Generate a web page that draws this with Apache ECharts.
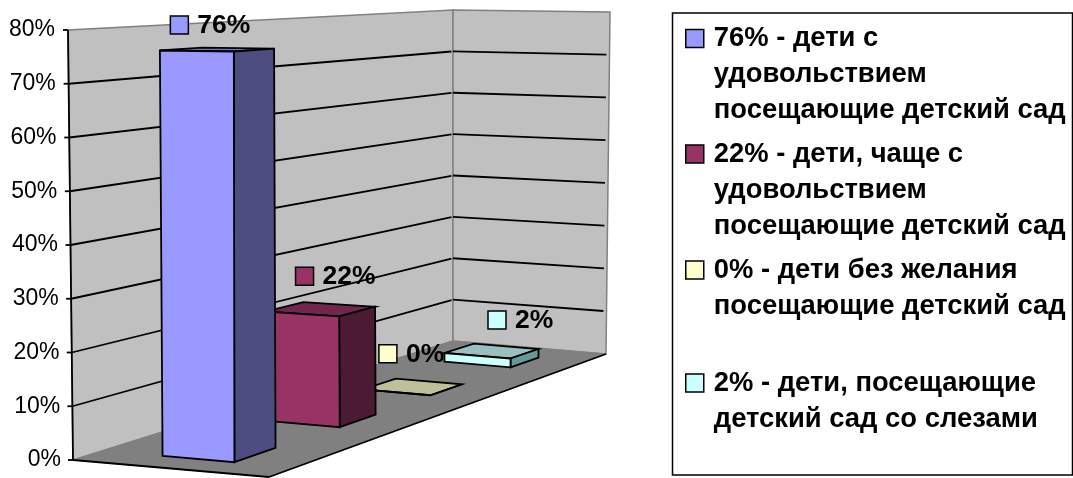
<!DOCTYPE html>
<html><head><meta charset="utf-8">
<style>html,body{margin:0;padding:0;background:#fff}#c{width:1073px;height:478px}</style>
<script src="https://cdn.jsdelivr.net/npm/echarts@6/dist/echarts.min.js"></script>
</head><body><div id="c"></div>
<script>
const seriesNames = ['76% - дети с удовольствием посещающие детский сад','22% - дети, чаще с удовольствием посещающие детский сад','0% - дети без желания посещающие детский сад','2% - дети, посещающие детский сад со слезами'];
const legendLines = [['76% - дети с','удовольствием','посещающие детский сад'],['22% - дети, чаще с','удовольствием','посещающие детский сад'],['0% - дети без желания','посещающие детский сад'],['2% - дети, посещающие','детский сад со слезами']];
const values = [76,22,0,2];
const dataLabels = ['76%','22%','0%','2%'];
const frontColors = ['#9999FF','#993366','#FFFFCC','#CCFFFF'];
const sideColors = ['#4D4D80','#4D1A33','#808066','#669999'];
const topColors = ['#7373BF','#73264D','#BFBF99','#99BFBF'];
const ticks = [0,10,20,30,40,50,60,70,80];

// projection of the room: floor and ceiling planes as pixel quads
const floorQuad = [[73,460],[269,477],[606,354],[453,341]];
const ceilQuad  = [[68,30],[270,32],[610,12],[453,10]];
function homography(q){
  const [p0,p1,p2,p3]=q;
  const dx1=p1[0]-p2[0],dx2=p3[0]-p2[0],sx=p0[0]-p1[0]+p2[0]-p3[0];
  const dy1=p1[1]-p2[1],dy2=p3[1]-p2[1],sy=p0[1]-p1[1]+p2[1]-p3[1];
  const den=dx1*dy2-dx2*dy1;
  const g=(sx*dy2-dx2*sy)/den,h=(dx1*sy-sx*dy1)/den;
  const a=p1[0]-p0[0]+g*p1[0],b=p3[0]-p0[0]+h*p3[0],c=p0[0];
  const d=p1[1]-p0[1]+g*p1[1],e=p3[1]-p0[1]+h*p3[1],f=p0[1];
  return (u,v)=>{const w=g*u+h*v+1;return [(a*u+b*v+c)/w,(d*u+e*v+f)/w];};
}
const H0=homography(floorQuad),H1=homography(ceilQuad);
function projector(params,api){
  const cs=params.coordSys;
  return (u,v,val)=>{
    const t=(cs.y+cs.height-api.coord([0,val])[1])/cs.height;
    const a=H0(u,v),b=H1(u,v);
    return [a[0]+(b[0]-a[0])*t,a[1]+(b[1]-a[1])*t];
  };
}
function poly(points,fill,stroke,lw){
  return {type:'polygon',shape:{points},style:{fill,stroke,lineWidth:lw}};
}
function line(p,q,stroke,lw){
  return {type:'line',shape:{x1:p[0],y1:p[1],x2:q[0],y2:q[1]},style:{stroke,lineWidth:lw}};
}
const barSpanU=[[0.312,0.685],[0.30,0.705],[0.30,0.70],[0.285,0.70]];
const DEPTH=0.097;
const barShiftV=[-0.015,-0.015,-0.0075,-0.0015];
function barRange(params,api,i){
  const cs=params.coordSys;
  const vc=(api.coord([i,0])[0]-cs.x)/cs.width+barShiftV[i];
  return [vc-DEPTH/2,vc+DEPTH/2];
}
function renderRoom(params,api){
  const P=projector(params,api);
  const top=ticks[ticks.length-1];
  const ch=[
    poly([P(0,0,0),P(0,1,0),P(0,1,top),P(0,0,top)],'#C0C0C0','#808080',1.5),
    poly([P(0,1,0),P(1,1,0),P(1,1,top),P(0,1,top)],'#C0C0C0','#808080',1.5),
    poly([P(0,0,0),P(1,0,0),P(1,1,0),P(0,1,0)],'#808080','#808080',1)
  ];
  ticks.slice(1,-1).forEach(t=>{
    ch.push(line(P(0,0,t),P(0,0.995,t),'#000',1.8));
    ch.push(line(P(0,1,t),P(0.98,1,t),'#000',1.8));
  });
  ticks.forEach(t=>{
    const a=P(0,0,t);
    ch.push(line([a[0]-5,a[1]],a,'#000',1.8));
  });
  ch.push(line(P(0,0,0),P(0,0,top),'#000',1.8));
  ch.push(line(P(0,0,0),P(1,0,0),'#000',1.8));
  ch.push(line(P(1,0,0),P(1,1,0),'#000',1.8));
  return {type:'group',children:ch};
}
function renderBar(i){
  return (params,api)=>{
    const P=projector(params,api);
    const val=api.value(1);
    const [v0,v1]=barRange(params,api,i);
    const [U0,U1]=barSpanU[i];
    return {type:'group',children:[
      poly([P(U0,v0,val),P(U1,v0,val),P(U1,v1,val),P(U0,v1,val)],topColors[i],'#000',1.8),
      poly([P(U1,v0,0),P(U1,v1,0),P(U1,v1,val),P(U1,v0,val)],sideColors[i],'#000',1.8),
      poly([P(U0,v0,0),P(U1,v0,0),P(U1,v0,val),P(U0,v0,val)],frontColors[i],'#000',1.8)
    ]};
  };
}
const labelOffset=[[-47.5,-24.5],[-25.5,-33],[-34,-33],[-4,-31]];
function renderLabel(params,api){
  const i=api.value(0),val=api.value(1);
  const P=projector(params,api);
  const [v0,v1]=barRange(params,api,i);
  const [U0,U1]=barSpanU[i];
  const c=P((U0+U1)/2,(v0+v1)/2,val);
  const x=c[0]+labelOffset[i][0],y=c[1]+labelOffset[i][1];
  return {type:'group',children:[
    {type:'rect',shape:{x,y:y-9,width:18,height:18},style:{fill:frontColors[i],stroke:'#000',lineWidth:1.5}},
    {type:'text',style:{x:x+27,y:y+1,text:dataLabels[i],fill:'#000',font:'bold 26.5px "Liberation Sans", Arial, sans-serif',verticalAlign:'middle',align:'left'}}
  ]};
}
const legendCenters=[38.5,154,270,383];
const LH=36;
const legends=seriesNames.map((n,i)=>{
  const k=legendLines[i].length;
  const blank='\n'.repeat(k-1);
  const h=(2*k-1)*LH;
  return {
    data:[n],orient:'vertical',left:685,top:legendCenters[i]-h/2,padding:0,
    icon:'rect',itemWidth:18,itemHeight:18,selectedMode:false,
    itemStyle:{color:frontColors[i],borderColor:'#000',borderWidth:1.5},
    formatter:()=>blank+legendLines[i].join('\n'),
    textStyle:{fontFamily:'"Liberation Sans", Arial, sans-serif',fontWeight:'bold',fontSize:27.4,color:'#000',lineHeight:LH,padding:[0,0,0,5]}
  };
});
const rich={};
ticks.forEach(t=>{rich['l'+t]={fontSize:23,fontFamily:'"Liberation Sans", Arial, sans-serif',color:'#000',padding:[0,t/80*6,0,0]};});
const chart=echarts.init(document.getElementById('c'),null,{renderer:'canvas'});
chart.setOption({
  animation:false,backgroundColor:'#fff',
  grid:{left:68,top:30,width:385,height:430},
  xAxis:{type:'category',data:seriesNames,show:false},
  yAxis:{type:'value',min:0,max:80,interval:10,axisLine:{show:false},axisTick:{show:false},splitLine:{show:false},
    axisLabel:{margin:7,formatter:v=>`{l${v}|${v}%}`,rich}},
  legend:legends,
  graphic:[{type:'rect',shape:{x:672.5,y:13,width:400,height:462},style:{fill:'none',stroke:'#000',lineWidth:1.5},z:50}],
  series:[
    {type:'custom',name:'room',coordinateSystem:'cartesian2d',data:[[0,0]],renderItem:renderRoom,z:1,clip:false,silent:true},
    ...seriesNames.map((n,i)=>({type:'custom',name:n,coordinateSystem:'cartesian2d',data:[[i,values[i]]],renderItem:renderBar(i),z:10-i,clip:false,itemStyle:{color:frontColors[i]}})),
    {type:'custom',name:'labels',coordinateSystem:'cartesian2d',data:values.map((v,i)=>[i,v]),renderItem:renderLabel,z:20,clip:false}
  ]
});
</script></body></html>
